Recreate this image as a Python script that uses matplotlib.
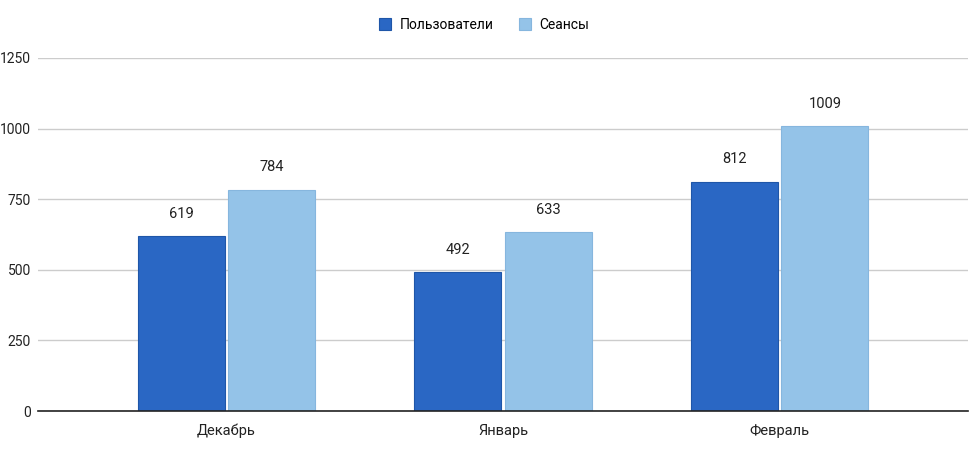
import matplotlib
matplotlib.use("Agg")
import matplotlib.pyplot as plt
import numpy as np

categories = ["Декабрь", "Январь", "Февраль"]
users = [619, 492, 812]
sessions = [784, 633, 1009]
series_names = ["Пользователи", "Сеансы"]
yticks = [0, 250, 500, 750, 1000, 1250]

plt.rcParams['font.family'] = ['Roboto', 'DejaVu Sans']

fig = plt.figure(figsize=(9.8, 4.72), dpi=100)
ax = fig.add_axes([0.0388, 0.1292, 0.949, 0.748])

x = np.arange(len(categories))
w = 0.314
off = w / 2 + 0.006
dark = "#2A67C4"
light = "#94C3E8"
b1 = ax.bar(x - off, users, w, color=dark, edgecolor="#1F56A8", linewidth=0.8, label=series_names[0], zorder=3)
b2 = ax.bar(x + off, sessions, w, color=light, edgecolor="#86B6DE", linewidth=0.8, label=series_names[1], zorder=3)

for bars, vals in ((b1, users), (b2, sessions)):
    for r, v in zip(bars, vals):
        ax.annotate(str(v), (r.get_x() + r.get_width() / 2, v), xytext=(0, 16),
                    textcoords="offset points", ha="center", va="center",
                    fontsize=10.5, color="#222222")

ax.set_xlim(-0.68, 2.68)
ax.set_ylim(0, 1250)
ax.set_yticks(yticks)
ax.set_yticklabels([str(t) for t in yticks], fontsize=10, color="#222222")
ax.set_xticks(x)
ax.set_xticklabels(categories, fontsize=10.5, color="#222222")
ax.tick_params(axis="both", length=0)
ax.tick_params(axis="y", pad=5)
ax.tick_params(axis="x", pad=9)
ax.grid(axis="y", color="#CCCCCC", linewidth=1.0, zorder=0)
for s in ["top", "right", "left"]:
    ax.spines[s].set_visible(False)
ax.spines["bottom"].set_color("#222222")
ax.spines["bottom"].set_linewidth(1.2)
ax.spines["bottom"].set_zorder(4)

fig.legend(handles=[b1, b2], labels=series_names, loc="center", bbox_to_anchor=(0.494, 0.947),
           ncol=2, frameon=False, fontsize=10, handlelength=0.9, handleheight=0.9,
           handletextpad=0.6, columnspacing=1.8)

fig.savefig("out.png", dpi=100)
